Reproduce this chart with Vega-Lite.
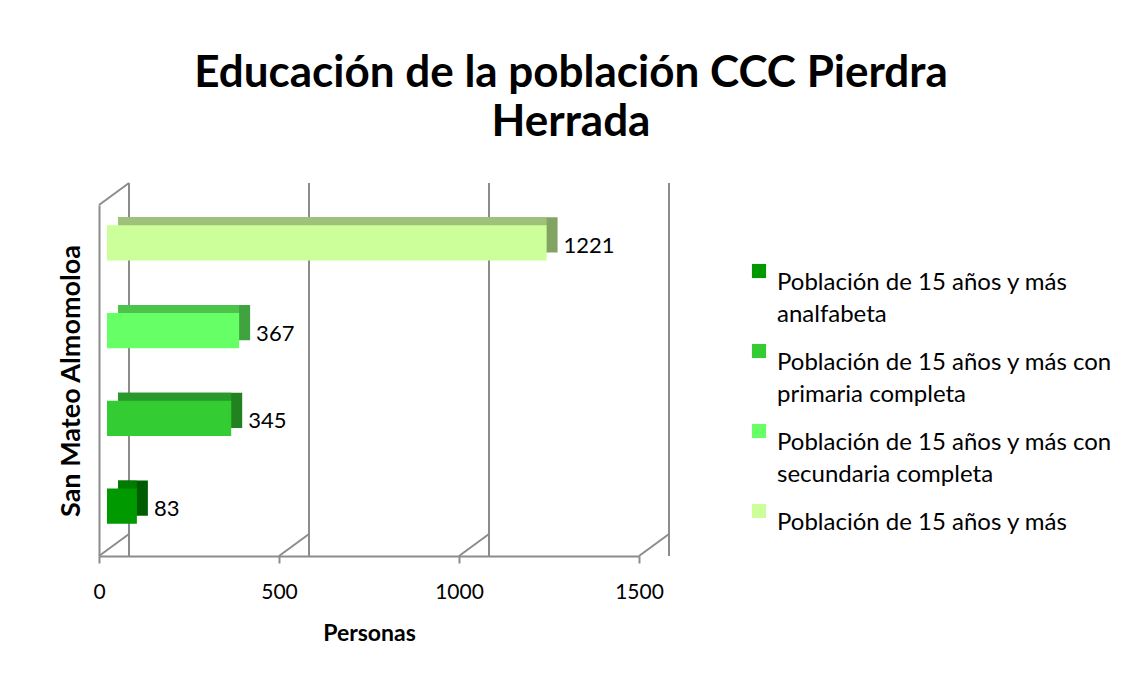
{
  "$schema": "https://vega.github.io/schema/vega-lite/v6.json",
  "autosize": {"type": "none"},
  "width": 540,
  "height": 351,
  "padding": {"left": 99, "top": 205, "right": 495, "bottom": 125},
  "background": "white",
  "config": {
    "view": {"stroke": null},
    "font": "Lato",
    "axis": {"labelFont": "Lato", "titleFont": "Lato"},
    "legend": {"labelFont": "Lato"},
    "style": {"guide-label": {"lineHeight": 32}}
  },
  "title": {
    "text": ["Educación de la población CCC Pierdra", "Herrada"],
    "font": "Lato",
    "fontSize": 44,
    "fontWeight": "bold",
    "color": "#000000",
    "anchor": "middle",
    "frame": "group",
    "dx": 202,
    "offset": 37,
    "lineHeight": 49
  },
  "datasets": {
    "bars": [
      {"serie": "Población de 15 años y más analfabeta", "personas": 83},
      {"serie": "Población de 15 años y más con primaria completa", "personas": 345},
      {"serie": "Población de 15 años y más con secundaria completa", "personas": 367},
      {"serie": "Población de 15 años y más", "personas": 1221}
    ],
    "ticks": [{"t": 0}, {"t": 500}, {"t": 1000}, {"t": 1500}],
    "corner": [{"t": 0}]
  },
  "resolve": {"scale": {"color": "independent"}},
  "layer": [
    {
      "data": {"name": "ticks"},
      "mark": {"type": "rule", "color": "#8c8c8c", "strokeWidth": 2, "xOffset": 30, "yOffset": -22, "y2Offset": -22},
      "encoding": {"x": {"field": "t", "type": "quantitative", "scale": {"domain": [0, 1500], "nice": false}}}
    },
    {
      "data": {"name": "ticks"},
      "mark": {"type": "rule", "color": "#8c8c8c", "strokeWidth": 2, "x2Offset": 30, "y2Offset": -22},
      "encoding": {
        "x": {"field": "t", "type": "quantitative"},
        "x2": {"field": "t"},
        "y": {"value": "height"},
        "y2": {"value": "height"}
      }
    },
    {
      "data": {"name": "corner"},
      "mark": {"type": "rule", "color": "#8c8c8c", "strokeWidth": 2, "x2Offset": 30, "y2Offset": -22},
      "encoding": {
        "x": {"field": "t", "type": "quantitative"},
        "x2": {"field": "t"},
        "y": {"value": 0},
        "y2": {"value": 0}
      }
    },
    {
      "data": {"name": "bars"},
      "mark": {"type": "bar", "xOffset": 19, "x2Offset": 19, "yOffset": -14},
      "encoding": {
        "y": {"field": "serie", "type": "nominal", "scale": {"domain": ["Población de 15 años y más", "Población de 15 años y más con secundaria completa", "Población de 15 años y más con primaria completa", "Población de 15 años y más analfabeta"], "paddingInner": 0.6, "paddingOuter": 0.3}},
        "x": {"field": "personas", "type": "quantitative"},
        "x2": {"datum": 0},
        "color": {"field": "serie", "type": "nominal", "legend": null, "scale": {"domain": ["Población de 15 años y más analfabeta", "Población de 15 años y más con primaria completa", "Población de 15 años y más con secundaria completa", "Población de 15 años y más"], "range": ["#005c00", "#22821f", "#3fa33f", "#82a462"]}}
      }
    },
    {
      "data": {"name": "bars"},
      "mark": {"type": "bar", "xOffset": 8, "x2Offset": 19, "yOffset": -14},
      "encoding": {
        "y": {"field": "serie", "type": "nominal"},
        "x": {"field": "personas", "type": "quantitative"},
        "x2": {"datum": 0},
        "color": {"field": "serie", "type": "nominal", "legend": null, "scale": {"domain": ["Población de 15 años y más analfabeta", "Población de 15 años y más con primaria completa", "Población de 15 años y más con secundaria completa", "Población de 15 años y más"], "range": ["#007a00", "#29992a", "#4cc44c", "#9ec27a"]}}
      }
    },
    {
      "data": {"name": "bars"},
      "mark": {"type": "bar", "xOffset": 8, "x2Offset": 8, "yOffset": -6},
      "encoding": {
        "y": {
          "field": "serie", "type": "nominal",
          "axis": {"labels": false, "ticks": false, "domainColor": "#8c8c8c", "domainWidth": 2, "title": "San Mateo Almomoloa", "titleFontSize": 27, "titleFontWeight": "bold", "titleColor": "#000000", "titlePadding": 14}
        },
        "x": {
          "field": "personas", "type": "quantitative",
          "scale": {"domain": [0, 1500], "nice": false},
          "axis": {"values": [0, 500, 1000, 1500], "format": "d", "labelFlush": false, "grid": false, "domainColor": "#8c8c8c", "domainWidth": 2, "tickColor": "#8c8c8c", "tickWidth": 2, "tickSize": 7, "labelFontSize": 21, "labelColor": "#000000", "labelPadding": 18, "title": "Personas", "titleFontSize": 23, "titleFontWeight": "bold", "titleColor": "#000000", "titlePadding": 20}
        },
        "x2": {"datum": 0},
        "color": {
          "field": "serie", "type": "nominal",
          "scale": {"domain": ["Población de 15 años y más analfabeta", "Población de 15 años y más con primaria completa", "Población de 15 años y más con secundaria completa", "Población de 15 años y más"], "range": ["#009900", "#33cc33", "#66ff66", "#ccff99"]},
          "legend": {
            "title": null,
            "orient": "none",
            "legendX": 648,
            "legendY": 54,
            "symbolType": "square",
            "symbolSize": 200,
            "symbolStrokeWidth": 0,
            "labelFontSize": 24,
            "labelColor": "#000000",
            "labelLimit": 400,
            "labelBaseline": "top",
            "labelOffset": 6,
            "rowPadding": 12,
            "labelExpr": "datum.label == 'Población de 15 años y más analfabeta' ? ['Población de 15 años y más', 'analfabeta'] : datum.label == 'Población de 15 años y más con primaria completa' ? ['Población de 15 años y más con', 'primaria completa'] : datum.label == 'Población de 15 años y más con secundaria completa' ? ['Población de 15 años y más con', 'secundaria completa'] : datum.label"
          }
        }
      }
    },
    {
      "data": {"name": "bars"},
      "mark": {"type": "text", "align": "left", "baseline": "middle", "dx": 25, "yOffset": -3, "fontSize": 22, "font": "Lato", "color": "#000000"},
      "encoding": {
        "y": {"field": "serie", "type": "nominal"},
        "x": {"field": "personas", "type": "quantitative"},
        "text": {"field": "personas", "type": "quantitative"}
      }
    }
  ]
}
